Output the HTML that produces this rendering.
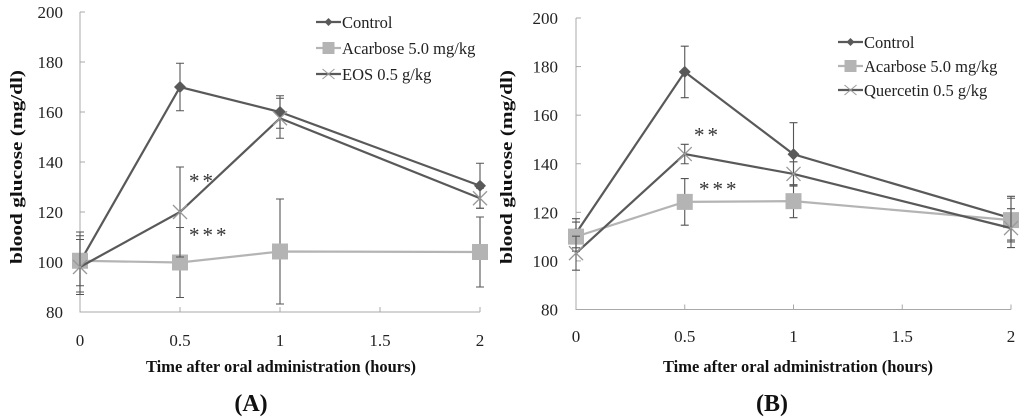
<!DOCTYPE html>
<html><head><meta charset="utf-8"><style>
html,body{margin:0;padding:0;background:#fff;}
svg{display:block;font-family:"Liberation Serif",serif;}
</style></head><body>
<svg id="s" width="1024" height="420" xmlns="http://www.w3.org/2000/svg"></svg>
<script>
// ---- data ----
const xTicks = [0, 0.5, 1, 1.5, 2];
const xTickLabels = ["0", "0.5", "1", "1.5", "2"];
const yTicks = [80, 100, 120, 140, 160, 180, 200];
const times = [0, 0.5, 1, 2];
const aControl = [100, 170, 160, 130.5];
const aControlErr = [12, 9.5, 6.5, 9];
const aAcarbose = [100.5, 99.8, 104.2, 104];
const aAcarboseErr = [10, 14, 21, 14];
const aEos = [98, 120, 157.5, 125.5];
const aEosErr = [11, 18, 8, 4];
const bControl = [111.4, 177.8, 143.9, 117.6];
const bControlErr = [6, 10.6, 13, 9];
const bAcarbose = [110, 124.3, 124.6, 116.8];
const bAcarboseErr = [6, 9.6, 6.8, 9];
const bQuercetin = [103.2, 144, 135.8, 113.5];
const bQuercetinErr = [7, 4, 5, 8];
const legendA = ["Control", "Acarbose 5.0 mg/kg", "EOS 0.5 g/kg"];
const legendB = ["Control", "Acarbose 5.0 mg/kg", "Quercetin 0.5 g/kg"];

const NS = "http://www.w3.org/2000/svg";
const svg = document.getElementById("s");
function mk(tag, attrs, parent, text) {
  const e = document.createElementNS(NS, tag);
  for (const k in attrs) e.setAttribute(k, attrs[k]);
  if (text !== undefined) e.textContent = text;
  (parent || svg).appendChild(e);
  return e;
}
const DARK = "#595959", LIGHT = "#b4b4b4", AX = "#a8a8a8";

function marker(g, kind, x, y) {
  if (kind === "diamond") {
    const m = mk("polygon", {points: `${x},${y-6} ${x+6},${y} ${x},${y+6} ${x-6},${y}`, fill: DARK}, g);
    
    
  } else if (kind === "square") {
    const m = mk("rect", {x: x-8, y: y-8, width: 16, height: 16, fill: LIGHT}, g);
    
    
  } else {
    const m = mk("path", {d: `M${x-7},${y-7}L${x+7},${y+7}M${x+7},${y-7}L${x-7},${y+7}`, stroke: "#999", "stroke-width": 1.3}, g);
    
    
  }
}

function chart(cfg) {
  const g = mk("g", {});
  
  
  const X = v => cfg.x0 + (v - 0) / 2 * (cfg.x1 - cfg.x0);
  const Y = v => cfg.y0 - (v - 80) / 120 * (cfg.y0 - cfg.y1);
  const ax = mk("path", {d: `M${cfg.x0},${cfg.y1}V${cfg.y0}H${cfg.x1}`, stroke: AX, fill: "none", "stroke-width": 1}, g);
  
  
  yTicks.forEach(t => {
    const tk = mk("line", {x1: cfg.x0, x2: cfg.x0 + 5, y1: Y(t), y2: Y(t), stroke: AX}, g);
    
    
    const tl = mk("text", {x: cfg.ylx, y: Y(t) + 6, "text-anchor": "end", "font-size": 17, fill: "#222"}, g, String(t));
    
    
  });
  xTicks.forEach((t, i) => {
    const tk = mk("line", {x1: X(t), x2: X(t), y1: cfg.y0, y2: cfg.y0 - 5, stroke: AX}, g);
    
    
    const tl = mk("text", {x: X(t), y: cfg.xly, "text-anchor": "middle", "font-size": 17, fill: "#222"}, g, xTickLabels[i]);
    
    
  });
  const xt = mk("text", {x: cfg.xtx - 135, y: 372, "font-size": 16.5, "font-weight": "bold", fill: "#111", textLength: 270, lengthAdjust: "spacingAndGlyphs"}, g, "Time after oral administration (hours)");
  
  
  const yt = mk("text", {x: -97, y: 0, transform: `translate(${cfg.ytx},${cfg.yty}) rotate(-90)`, "font-size": 17, "font-weight": "bold", fill: "#111", textLength: 194, lengthAdjust: "spacingAndGlyphs"}, g, "blood glucose (mg/dl)");
  
  
  const pl = mk("text", {x: cfg.plx, y: 411, "text-anchor": "middle", "font-size": 24, "font-weight": "bold", fill: "#111"}, g, cfg.panel);
  
  

  cfg.series.forEach(s => {
    const sg = mk("g", {}, g);
    
    
    const pts = times.map((t, i) => `${X(t)},${Y(s.vals[i])}`).join(" ");
    const ln = mk("polyline", {points: pts, fill: "none", stroke: s.color, "stroke-width": 2.2}, sg);
    
    
    times.forEach((t, i) => {
      const x = X(t), hi = Y(s.vals[i] + s.err[i]), lo = Y(s.vals[i] - s.err[i]);
      const eb = mk("path", {d: `M${x},${hi}V${lo}M${x-4},${hi}H${x+4}M${x-4},${lo}H${x+4}`, stroke: "#555", "stroke-width": 1.1, fill: "none"}, sg);
      
      
      marker(sg, s.marker, x, Y(s.vals[i]));
    });
  });
  cfg.stars.forEach(st => {
    const t = mk("text", {x: st.px, y: st.py, "font-size": 21, fill: "#333", "letter-spacing": "3"}, g, st.txt);
    
    
  });
  const lg = mk("g", {}, g);
  
  
  cfg.series.forEach((s, i) => {
    const y = cfg.ly + i * cfg.lstep;
    const e = mk("g", {}, lg);
    
    
    mk("line", {x1: cfg.lx, x2: cfg.lx + 25, y1: y, y2: y, stroke: s.color, "stroke-width": 2.2}, e);
    const mx = cfg.lx + 12.5;
    if (s.marker === "diamond") mk("polygon", {points: `${mx},${y-4} ${mx+4},${y} ${mx},${y+4} ${mx-4},${y}`, fill: DARK}, e);
    else if (s.marker === "square") mk("rect", {x: mx-6, y: y-6, width: 12, height: 12, fill: LIGHT}, e);
    else mk("path", {d: `M${mx-6},${y-5}L${mx+6},${y+5}M${mx+6},${y-5}L${mx-6},${y+5}`, stroke: "#999"}, e);
    mk("text", {x: cfg.lx + 26, y: y + 6, "font-size": 16.5, fill: "#222"}, e, cfg.legend[i]);
  });
}

chart({name: "chart-a", panel: "(A)", plx: 251, x0: 80, x1: 480, y0: 312, y1: 12, ylx: 63, xly: 346, xtx: 281, ytx: 22, yty: 167,
  lx: 316, ly: 22, lstep: 26, legend: legendA,
  series: [
    {name: "control-series", vals: aControl, err: aControlErr, color: DARK, marker: "diamond"},
    {name: "acarbose-series", vals: aAcarbose, err: aAcarboseErr, color: LIGHT, marker: "square"},
    {name: "eos-series", vals: aEos, err: aEosErr, color: DARK, marker: "x"}],
  stars: [{px: 189, py: 188, txt: "**"}, {px: 189, py: 242, txt: "***"}]});

chart({name: "chart-b", panel: "(B)", plx: 772, x0: 576, x1: 1011, y0: 309.5, y1: 18, ylx: 558, xly: 342, xtx: 798, ytx: 512, yty: 167,
  lx: 838, ly: 42, lstep: 24, legend: legendB,
  series: [
    {name: "control-series", vals: bControl, err: bControlErr, color: DARK, marker: "diamond"},
    {name: "acarbose-series", vals: bAcarbose, err: bAcarboseErr, color: LIGHT, marker: "square"},
    {name: "quercetin-series", vals: bQuercetin, err: bQuercetinErr, color: DARK, marker: "x"}],
  stars: [{px: 694, py: 142, txt: "**"}, {px: 699, py: 196, txt: "***"}]});
</script>
</body></html>
